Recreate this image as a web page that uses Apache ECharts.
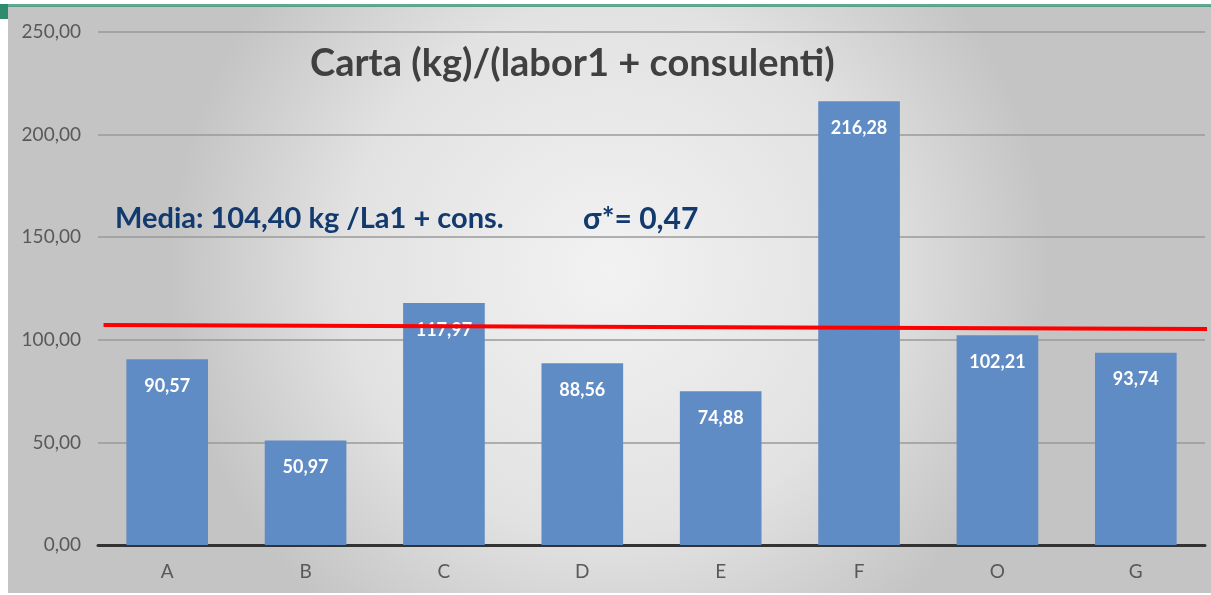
<!DOCTYPE html>
<html><head><meta charset="utf-8">
<script src="https://cdn.jsdelivr.net/npm/echarts@6/dist/echarts.min.js"></script>
<style>html,body{margin:0;padding:0;background:#fff}#c{width:1211px;height:595px}</style>
</head><body><div id="c"></div>
<script>
const categories = ['A','B','C','D','E','F','O','G'];
const values = [90.57, 50.97, 117.97, 88.56, 74.88, 216.28, 102.21, 93.74];
const yTicks = [0, 50, 100, 150, 200, 250];
// red mean line as drawn: [category position, value] at both ends
const meanLine = [[-0.46, 107.2], [7.55, 105.3]];
const titleText = 'Carta (kg)/(labor1 + consulenti)';
const mediaText = 'Media: 104,40 kg /La1 + cons.';
const sigmaText = 'σ*= 0,47';

const fmt = v => v.toFixed(2).replace('.', ',');
const chart = echarts.init(document.getElementById('c'), null, {renderer:'canvas'});
const font = 'Lato, "Open Sans", sans-serif';
chart.setOption({
  animation:false,
  backgroundColor:'#ffffff',
  graphic:[
    {type:'rect', z:-10, silent:true, shape:{x:8,y:6,width:1203,height:587},
     style:{fill:new echarts.graphic.RadialGradient(0.5,0.45,0.75,[
       {offset:0,color:'#f2f2f2'},{offset:0.6,color:'#e2e2e2'},{offset:1,color:'#c4c4c4'}])}},
    {type:'rect', z:-9, silent:true, shape:{x:0,y:4,width:1211,height:3}, style:{fill:'#3a9478', opacity:0.8}},
    {type:'rect', z:-9, silent:true, shape:{x:0,y:4,width:8,height:15}, style:{fill:'#2e8b6e'}},
    {type:'text', z:10, left:115, top:204, style:{text:mediaText, fill:'#123a6e', font:'bold 29px '+font}},
    {type:'text', z:10, left:583, top:204, style:{text:sigmaText, fill:'#123a6e', font:'bold 30px '+font}}
  ],
  title:{text:titleText, left:305, top:40,
    textStyle:{fontFamily:font, fontWeight:'bold', fontSize:38, color:'#404040'}},
  grid:{left:98, right:6, top:32, bottom:50, containLabel:false},
  xAxis:[{type:'category', data:categories,
    axisLine:{lineStyle:{color:'#333', width:3}}, axisTick:{show:false},
    axisLabel:{color:'#595959', fontSize:19, fontFamily:font, margin:17}},
    {type:'value', min:-0.5, max:categories.length-0.5, show:false}],
  yAxis:{type:'value', min:yTicks[0], max:yTicks[yTicks.length-1], interval:50,
    axisLine:{show:false}, axisTick:{show:false},
    axisLabel:{color:'#595959', fontSize:19, fontFamily:font, margin:17, formatter:fmt},
    splitLine:{lineStyle:{color:'#9a9a9a', width:1.5}}},
  series:[{
    type:'bar', data:values, barWidth:'59%',
    itemStyle:{color:'#5f8cc4'},
    label:{show:true, position:'insideTop', distance:18, color:'#ffffff',
      fontFamily:font, fontWeight:'bold', fontSize:18, formatter:p=>fmt(p.value)}
  },{
    type:'line', xAxisIndex:1, data:meanLine, clip:false, symbol:'none', silent:true,
    lineStyle:{color:'#ff0000', width:4}, z:5
  }]
});
</script></body></html>
